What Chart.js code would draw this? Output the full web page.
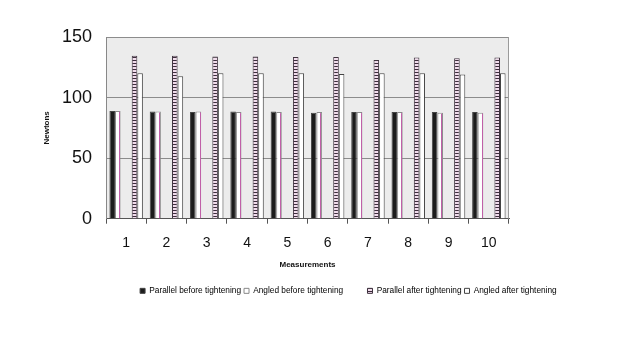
<!DOCTYPE html>
<html>
<head>
<meta charset="utf-8">
<script src="https://cdn.jsdelivr.net/npm/chart.js@4"></script>
<style>
  html, body { margin: 0; padding: 0; background: #fff; }
  canvas { display: block; }
</style>
</head>
<body>
<canvas id="chart" width="627" height="351"></canvas>
<script>
// data
const measurements = ['1', '2', '3', '4', '5', '6', '7', '8', '9', '10'];
const parallelBefore = [89, 88.5, 88, 88.5, 88.5, 87.5, 88, 88, 88, 88];
const angledBefore = [89, 88.5, 88.5, 88, 88, 88, 88, 88, 87.5, 87.5];
const parallelAfter = [134.5, 134.5, 134, 134, 133.5, 133.5, 131, 133, 132.5, 133];
const angledAfter = [120, 117.5, 120, 120, 120, 119.5, 120, 120, 119, 120];
const seriesNames = ['Parallel before tightening', 'Angled before tightening',
  'Parallel after tightening', 'Angled after tightening'];
const yRange = [0, 150, 50]; // min, max, step

Chart.defaults.font.family = '"Liberation Sans", Arial, sans-serif';
Chart.defaults.color = '#111';

// horizontal stripes for "parallel after"
function stripes() {
  const c = document.createElement('canvas');
  c.width = 1; c.height = 3;
  const g = c.getContext('2d');
  g.fillStyle = '#f1dcec'; g.fillRect(0, 0, 1, 3);
  g.fillStyle = '#3c2c3c'; g.fillRect(0, 0, 1, 1);
  return g.createPattern(c, 'repeat');
}
const stripePattern = stripes();

// plot background, right border, pink line in angled-before bars
const plotDeco = {
  id: 'plotDeco',
  beforeDraw(chart) {
    const { ctx, chartArea: a } = chart;
    ctx.save();
    ctx.fillStyle = '#ececec';
    ctx.fillRect(a.left, a.top, a.right - a.left, a.bottom - a.top);
    ctx.restore();
  },
  afterDatasetsDraw(chart) {
    const { ctx, chartArea: a } = chart;
    ctx.save();
    ctx.strokeStyle = '#c060a8';
    ctx.lineWidth = 1;
    chart.getDatasetMeta(1).data.forEach(bar => {
      const x = Math.round(bar.x + bar.width * 0.2) + 0.5;
      ctx.beginPath();
      ctx.moveTo(x, bar.y + 1);
      ctx.lineTo(x, bar.base);
      ctx.stroke();
    });
    ctx.strokeStyle = '#9a9a9a';
    ctx.beginPath();
    ctx.moveTo(a.right - 0.5, a.top);
    ctx.lineTo(a.right - 0.5, a.bottom);
    ctx.stroke();
    ctx.restore();
  }
};

const blank = measurements.map(() => null);

new Chart(document.getElementById('chart'), {
  type: 'bar',
  data: {
    labels: measurements,
    datasets: [
      { label: seriesNames[0], data: parallelBefore, backgroundColor: '#1c1c1c', borderColor: '#444', borderWidth: 1 },
      { label: seriesNames[1], data: angledBefore, backgroundColor: '#ffffff', borderColor: '#8a8a8a', borderWidth: 1 },
      { label: '', data: blank },
      { label: '', data: blank },
      { label: seriesNames[2], data: parallelAfter, backgroundColor: stripePattern, borderColor: '#3e323e', borderWidth: 1 },
      { label: seriesNames[3], data: angledAfter, backgroundColor: '#ffffff', borderColor: '#444', borderWidth: 1 }
    ]
  },
  options: {
    responsive: false,
    animation: false,
    devicePixelRatio: 1,
    datasets: { bar: { barPercentage: 1, categoryPercentage: 0.83, borderSkipped: 'bottom' } },
    layout: { padding: { top: 37, bottom: 46, left: 0, right: 0 } },
    plugins: {
      tooltip: { enabled: false },
      legend: {
        position: 'bottom',
        labels: {
          boxWidth: 5,
          boxHeight: 5,
          padding: 3,
          font: { size: 8.3 },
          color: '#111',
          generateLabels(chart) {
            const ds = chart.data.datasets;
            const spacer = n => ({ text: ' '.repeat(n), fillStyle: 'rgba(0,0,0,0)', strokeStyle: 'rgba(0,0,0,0)', lineWidth: 0, hidden: false });
            const item = i => ({ text: ds[i].label, fillStyle: ds[i].backgroundColor, strokeStyle: ds[i].borderColor, lineWidth: 1, hidden: false, datasetIndex: i });
            return [spacer(25), item(0), item(1), spacer(4), item(4), item(5)];
          }
        }
      }
    },
    scales: {
      x: {
        grid: { drawOnChartArea: false, drawTicks: true, tickLength: 5, color: '#555', offset: true },
        border: { color: '#555' },
        ticks: { font: { size: 14 }, padding: 11, color: '#111' },
        title: { display: true, text: 'Measurements', font: { size: 8, weight: 'bold' }, padding: { top: 0, bottom: 14 }, color: '#111' },
        afterFit: s => { s.height = 65; }
      },
      y: {
        min: yRange[0], max: yRange[1],
        ticks: { stepSize: yRange[2], font: { size: 18 }, padding: 14, color: '#111' },
        grid: { drawTicks: false, color: '#8c8c8c' },
        border: { color: '#888' },
        title: { display: true, text: 'Newtons', font: { size: 8, weight: 'bold' }, padding: { top: 42, bottom: 0 }, color: '#111' },
        afterFit: s => { s.width = 106; }
      },
      y2: {
        type: 'linear',
        position: 'right',
        display: true,
        grid: { display: false },
        ticks: { display: false },
        border: { display: false },
        afterFit: s => { s.width = 118; }
      }
    }
  },
  plugins: [plotDeco]
});
</script>
</body>
</html>
